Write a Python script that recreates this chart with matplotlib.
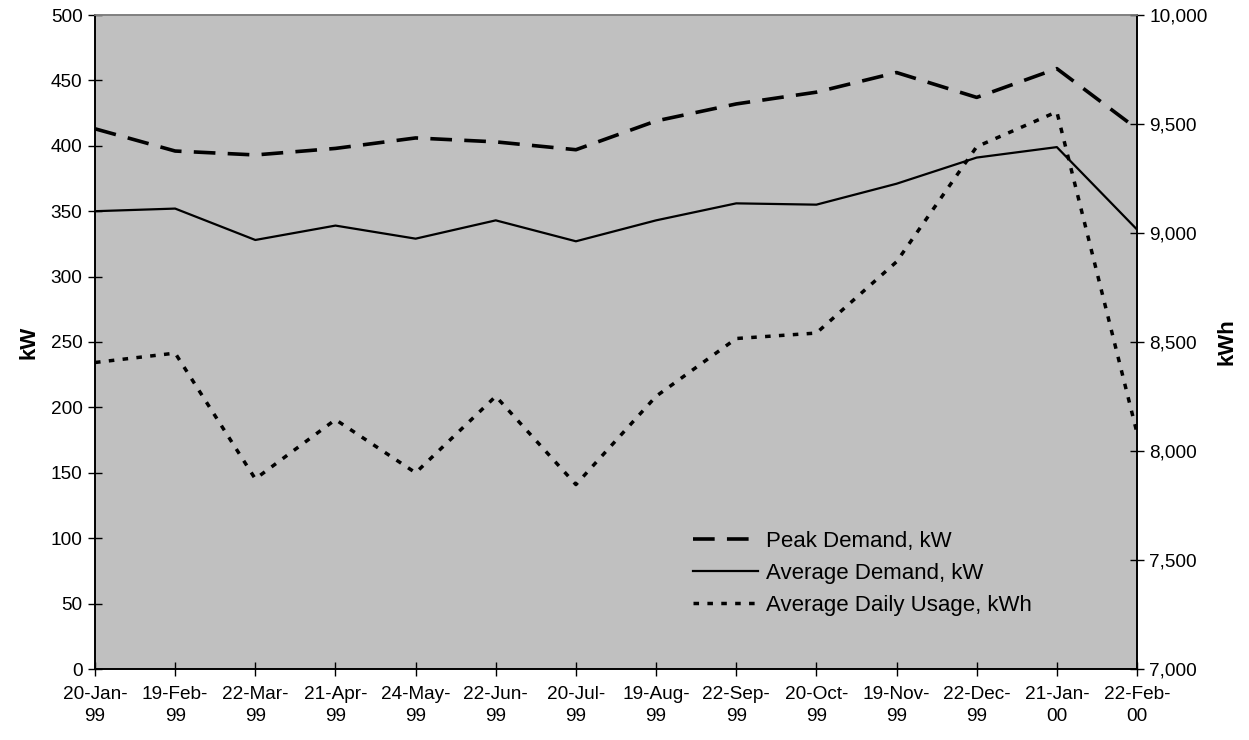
import matplotlib
matplotlib.use('Agg')
import matplotlib.pyplot as plt
from matplotlib.ticker import FuncFormatter

plt.rcParams['font.family'] = ['Liberation Sans', 'DejaVu Sans']

# Billing periods (meter read dates)
dates = ['20-Jan-\n99', '19-Feb-\n99', '22-Mar-\n99', '21-Apr-\n99', '24-May-\n99',
         '22-Jun-\n99', '20-Jul-\n99', '19-Aug-\n99', '22-Sep-\n99', '20-Oct-\n99',
         '19-Nov-\n99', '22-Dec-\n99', '21-Jan-\n00', '22-Feb-\n00']

peak_kw = [413, 396, 393, 398, 406, 403, 397, 419, 432, 441, 456, 437, 459, 413]
avg_kw = [350, 352, 328, 339, 329, 343, 327, 343, 356, 355, 371, 391, 399, 336]
usage_kwh = [8406, 8449, 7872, 8144, 7900, 8251, 7846, 8251, 8516, 8541,
             8868, 9396, 9556, 8083]

x = list(range(len(dates)))

fig = plt.figure(figsize=(12.49, 7.40), dpi=100)
ax = fig.add_axes([95 / 1249, 1 - 669 / 740, (1137 - 95) / 1249, (669 - 15) / 740])
ax2 = ax.twinx()

ax.set_facecolor('#c0c0c0')

l1, = ax.plot(x, peak_kw, color='black', lw=2.6, dashes=(6.0, 3.4),
              label='Peak Demand, kW')
l2, = ax.plot(x, avg_kw, color='black', lw=1.6, label='Average Demand, kW')
l3, = ax2.plot(x, usage_kwh, color='black', lw=2.5, dashes=(1.6, 2.4),
               label='Average Daily Usage, kWh')

ax.set_xlim(0, len(dates) - 1)
ax.set_ylim(0, 500)
ax2.set_ylim(7000, 10000)
ax.set_yticks(range(0, 501, 50))
ax2.set_yticks(range(7000, 10001, 500))
ax2.yaxis.set_major_formatter(FuncFormatter(lambda v, p: f'{int(v):,}'))

ax.set_xticks(x)
ax.set_xticklabels(dates, fontsize=13.7, linespacing=1.4)
ax.tick_params(axis='y', labelsize=13.7, direction='inout', length=10, width=1, pad=4)
ax.tick_params(axis='x', direction='inout', length=10, width=1, pad=7)
ax2.tick_params(axis='y', labelsize=13.7, direction='inout', length=10, width=1, pad=4)

for a in (ax, ax2):
    a.spines['top'].set_color('#808080')
    a.spines['top'].set_linewidth(1.2)
    a.spines['left'].set_linewidth(1.2)
    a.spines['right'].set_linewidth(1.2)
    a.spines['bottom'].set_linewidth(1.2)

ax.set_ylabel('kW', fontsize=16, fontweight='bold', labelpad=8)
ax2.set_ylabel('kWh', fontsize=16, fontweight='bold', labelpad=6)

leg = ax2.legend(handles=[l1, l2, l3], loc='upper left',
                 bbox_to_anchor=(0.563, 0.228), frameon=False,
                 fontsize=16, handlelength=2.95, handletextpad=0.35,
                 labelspacing=0.5, borderpad=0)

plt.savefig('out.png', dpi=100)
plt.close()
